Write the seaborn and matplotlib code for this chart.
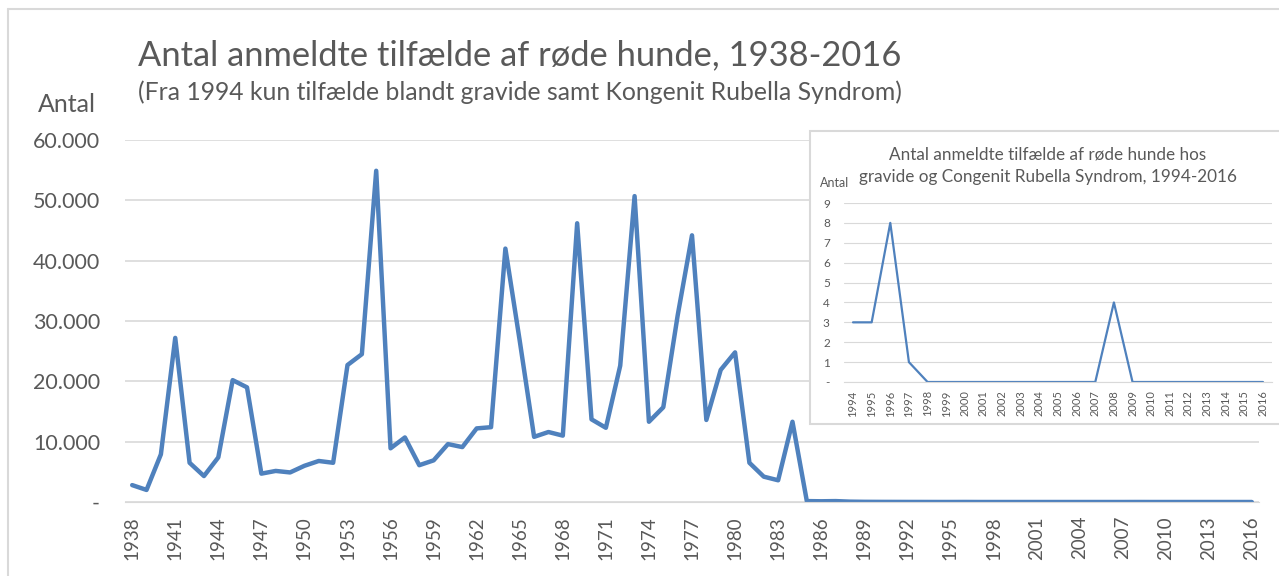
import numpy as np
import pandas as pd
import matplotlib.pyplot as plt
import matplotlib.ticker as mticker
from matplotlib.patches import Rectangle
from matplotlib.lines import Line2D
import seaborn as sns

# Values.
years = list(range(1938, 2017))
cases = [2800, 2000, 7900, 27200, 6500, 4300, 7400, 20200, 19000, 4700,
         5150, 4900, 6000, 6800, 6500, 22700, 24500, 54900, 8900, 10700,
         6100, 6900, 9600, 9100, 12200, 12400, 42000, 26700, 10800, 11600,
         11000, 46200, 13700, 12300, 22600, 50700, 13300, 15700, 30900, 44200,
         13600, 21900, 24800, 6500, 4200, 3600, 13300, 150, 120, 150,
         60, 30, 20, 15, 10, 8,
         3, 3, 8, 1, 0, 0, 0, 0, 0, 0, 0, 0, 0, 0, 4, 0, 0, 0, 0, 0, 0, 0, 0]

inset_years = list(range(1994, 2017))
inset_cases = [3, 3, 8, 1, 0, 0, 0, 0, 0, 0, 0, 0, 0, 0, 4, 0, 0, 0, 0, 0, 0, 0, 0]

df = pd.DataFrame({"year": years, "cases": cases})
df_in = pd.DataFrame({"year": inset_years, "cases": inset_cases})

sns.set_style("white")
plt.rcParams['font.family'] = ['Lato', 'DejaVu Sans']

W, H = 1279, 576
fig = plt.figure(figsize=(W / 100, H / 100), dpi=100)

blue = "#4F81BD"
txt = "#595959"
grid = "#d9d9d9"

def fx(px):
    return px / W

def fy(py):
    return 1 - py / H

# outer chart frame
fig.add_artist(Line2D([fx(8), fx(8)], [fy(9), 0], color=grid, lw=1.5))
fig.add_artist(Line2D([fx(8), 1], [fy(9), fy(9)], color=grid, lw=1.5))

# main axes
ax = fig.add_axes([fx(125), fy(502), fx(1259 - 125), fy(140) - fy(502)])
sns.lineplot(data=df, x="year", y="cases", ax=ax, color=blue, lw=3.2)
ax.set_xlim(1937.5, 2016.5)
ax.set_ylim(0, 60000)
ax.set_yticks(np.arange(0, 60001, 10000))
ax.yaxis.set_major_formatter(mticker.FuncFormatter(
    lambda v, p: "-" if v == 0 else f"{int(v):,}".replace(",", ".")))
ax.set_xticks(years[::3])
ax.set_xticklabels([str(y) for y in years[::3]], rotation=90)
ax.grid(axis="y", color=grid, lw=1.2)
for s in ["top", "right", "left"]:
    ax.spines[s].set_visible(False)
ax.spines["bottom"].set_color(grid)
ax.tick_params(axis="y", length=0, pad=18, labelsize=15.5, labelcolor=txt)
ax.tick_params(axis="x", length=0, pad=10, labelsize=13.5, labelcolor=txt)
ax.set_xlabel("")
ax.set_ylabel("")

fig.text(fx(38), fy(112), "Antal", fontsize=18, color=txt, va="baseline")
fig.text(fx(138), fy(65), "Antal anmeldte tilfælde af røde hunde, 1938-2016",
         fontsize=24.8, color=txt, va="baseline")
fig.text(fx(138), fy(100),
         "(Fra 1994 kun tilfælde blandt gravide samt Kongenit Rubella Syndrom)",
         fontsize=17.8, color=txt, va="baseline")

# inset box
fig.add_artist(Rectangle((fx(810), fy(424)), fx(1300 - 810), fy(131) - fy(424),
                         transform=fig.transFigure, facecolor="white",
                         edgecolor=grid, lw=1.5, zorder=3))

ax2 = fig.add_axes([fx(843.7), fy(382), fx(1272.3 - 843.7), fy(203) - fy(382)],
                   zorder=4)
ax2.patch.set_alpha(0)
sns.lineplot(data=df_in, x="year", y="cases", ax=ax2, color=blue, lw=1.6)
ax2.set_xlim(1993.5, 2016.5)
ax2.set_ylim(0, 9)
ax2.set_yticks(range(0, 10))
ax2.yaxis.set_major_formatter(mticker.FuncFormatter(
    lambda v, p: "-" if v == 0 else str(int(v))))
ax2.set_xticks(inset_years)
ax2.set_xticklabels([str(y) for y in inset_years], rotation=90)
ax2.grid(axis="y", color=grid, lw=0.8)
for s in ["top", "right", "left"]:
    ax2.spines[s].set_visible(False)
ax2.spines["bottom"].set_color(grid)
ax2.tick_params(axis="y", length=0, pad=10, labelsize=8.5, labelcolor=txt)
ax2.tick_params(axis="x", length=0, pad=6, labelsize=8, labelcolor=txt)
ax2.set_xlabel("")
ax2.set_ylabel("")

fig.text(fx(820), fy(187), "Antal", fontsize=9, color=txt, va="baseline", zorder=5)
fig.text(fx(1048), fy(159), "Antal anmeldte tilfælde af røde hunde hos",
         fontsize=12.3, color=txt, va="baseline", ha="center", zorder=5)
fig.text(fx(1048), fy(182), "gravide og Congenit Rubella Syndrom, 1994-2016",
         fontsize=12.3, color=txt, va="baseline", ha="center", zorder=5)

fig.savefig("out.png", dpi=100, facecolor="white")
